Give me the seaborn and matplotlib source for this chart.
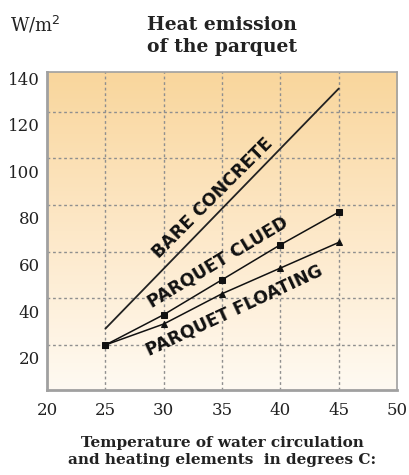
import numpy as np
import pandas as pd
import matplotlib
matplotlib.use("Agg")
import matplotlib.pyplot as plt
from matplotlib.colors import LinearSegmentedColormap
import seaborn as sns

# data
temps = [25, 30, 35, 40, 45]
clued = [20, 33, 48, 63, 77]
floating = [20, 29, 42, 53, 64]
bare_temps = [25, 45]
bare = [27, 130]

y_labels = [20, 40, 60, 80, 100, 120, 140]
x_ticks = [20, 25, 30, 35, 40, 45, 50]

df_clued = pd.DataFrame({"temp": temps, "w": clued})
df_float = pd.DataFrame({"temp": temps, "w": floating})
df_bare = pd.DataFrame({"temp": bare_temps, "w": bare})

sns.set_style("white")
serif = ["DejaVu Serif"]

fig = plt.figure(figsize=(4.09, 4.75), dpi=100)
ax = fig.add_axes([0.115, 0.179, 0.856, 0.669])

xlim = (20, 50)
ylim = (0.7, 137)

# orange -> cream gradient background
cmap = LinearSegmentedColormap.from_list("bg", ["#fffaf2", "#fde8c8", "#f9d69c"])
grad = np.linspace(0, 1, 256).reshape(-1, 1)
ax.imshow(grad, cmap=cmap, aspect="auto", origin="lower",
          extent=[xlim[0], xlim[1], ylim[0], ylim[1]], zorder=0)

sns.lineplot(data=df_bare, x="temp", y="w", color="#222222", lw=1.3, ax=ax, zorder=3)
sns.lineplot(data=df_clued, x="temp", y="w", color="#111111", lw=1.1,
             marker="s", markersize=5, markeredgecolor="#111111", ax=ax, zorder=3)
sns.lineplot(data=df_float, x="temp", y="w", color="#111111", lw=1.1,
             marker="^", markersize=5, markeredgecolor="#111111", ax=ax, zorder=3)

ax.set_xlim(*xlim)
ax.set_ylim(*ylim)

# grid lines sit on the values, labels sit a bit lower (as in the original)
ax.set_xticks(x_ticks)
ax.set_xticklabels([str(v) for v in x_ticks], family=serif, fontsize=12, color="#222222")
ax.set_yticks([v - 5.5 for v in y_labels])
ax.set_yticklabels([str(v) for v in y_labels], family=serif, fontsize=12, color="#222222")
ax.tick_params(axis="both", which="both", length=0, pad=5)
ax.tick_params(axis="x", pad=9)

for v in y_labels[:-1]:
    ax.axhline(v, color="#8f8f8f", lw=1, ls=(0, (2, 2)), zorder=1)
for v in x_ticks[1:-1]:
    ax.axvline(v, color="#8f8f8f", lw=1, ls=(0, (2, 2)), zorder=1)

for side in ["left", "bottom", "right", "top"]:
    ax.spines[side].set_color("#a0a0a0")
    ax.spines[side].set_linewidth(1.2)
ax.spines["left"].set_linewidth(2)
ax.spines["bottom"].set_linewidth(2)

ax.set_xlabel("")
ax.set_ylabel("")

lab = dict(fontsize=12.5, fontweight="bold", family="DejaVu Sans", color="#111111",
           ha="center", va="center", zorder=4)
ax.text(34.2, 83, "BARE CONCRETE", rotation=45, **lab)
ax.text(34.6, 55.5, "PARQUET CLUED", rotation=31, **lab)
ax.text(36.0, 35, "PARQUET FLOATING", rotation=25, **lab)

fig.text(0.543, 0.924, "Heat emission\nof the parquet", ha="center", va="center",
         family=serif, fontsize=13.5, fontweight="bold", color="#222222", linespacing=1.3)
fig.text(0.024, 0.948, "W/m$^2$", ha="left", va="center",
         family=serif, fontsize=13, color="#222222")
fig.text(0.543, 0.05, "Temperature of water circulation\nand heating elements  in degrees C:",
         ha="center", va="center", family=serif, fontsize=11, fontweight="bold",
         color="#222222", linespacing=1.3)

fig.savefig("out.png", dpi=100, facecolor="white")
